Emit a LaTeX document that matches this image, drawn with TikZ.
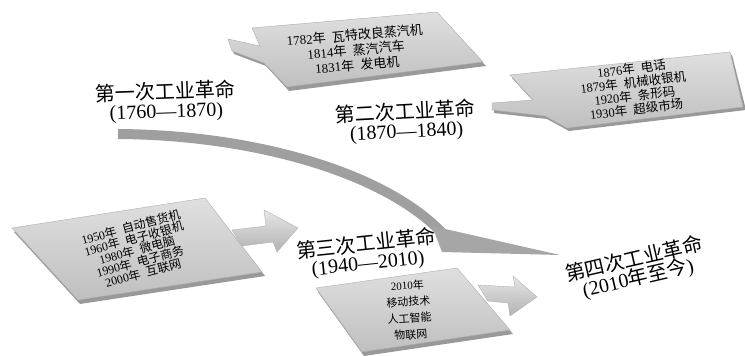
\documentclass[tikz,border=0pt]{standalone}
\usepackage{fontspec}
\setmainfont{Liberation Serif}
\newfontfamily\cjk{Noto Sans CJK SC}
\newcommand{\zh}[1]{{\cjk #1}}
\tikzset{
  panelshadow/.style={fill=gray!80, draw=none},
  panel/.style={top color=gray!25, bottom color=gray!50, draw=gray!65, line width=0.4pt},
  blockarrow/.style={top color=gray!20, bottom color=gray!60, draw=gray!60, line width=0.4pt},
  eralabel/.style={font=\fontsize{20}{19}\selectfont, align=center, inner sep=1pt},
  paneltext/.style={font=\fontsize{12.5}{14}\selectfont, align=center, inner sep=1pt},
}
\begin{document}
\begin{tikzpicture}[x=1pt,y=-1pt]
\useasboundingbox (0,0) rectangle (745,356);

% ---------- panel 1 ----------
\fill[panelshadow] (254,31) -- (439,15) -- (486,66) -- (289,91) -- (266,66) -- (234,54) -- (230,42) -- (262,49) -- cycle;
\path[panel] (252,28) -- (437,12) -- (483,62) -- (287,87) -- (264,63) -- (232,51) -- (228,39) -- (260,46) -- cycle;
\node[paneltext, rotate=5, font=\fontsize{13}{15}\selectfont] (p1) at (356,50) {1782\zh{年}\ \ \zh{瓦特改良蒸汽机}\\1814\zh{年}\ \ \zh{蒸汽汽车}\\1831\zh{年}\ \ \zh{发电机}};

% ---------- panel 2 ----------
\fill[panelshadow] (512,78) -- (732,55) -- (746,110) -- (569,131) -- (547,119) -- (494,113) -- (494,106) -- (535,103) -- cycle;
\path[panel] (510,75) -- (730,52) -- (743,107) -- (567,128) -- (545,116) -- (492,110) -- (492,103) -- (533,100) -- cycle;
\node[paneltext, rotate=7, font=\fontsize{12.5}{13.5}\selectfont] (p2) at (634,89) {1876\zh{年}\ \ \zh{电话}\\1879\zh{年}\ \ \zh{机械收银机}\\1920\zh{年}\ \ \zh{条形码}\\1930\zh{年}\ \ \zh{超级市场}};

% ---------- panel 3 ----------
\fill[panelshadow] (14,232) -- (207,202) -- (265,276) -- (80,304) -- cycle;
\path[panel] (12,228) -- (205,198) -- (262,272) -- (78,300) -- cycle;
\path[blockarrow] (232,230) -- (266,226) -- (264,210) -- (298,228) -- (277,252) -- (273,242) -- (242,246) -- cycle;
\node[paneltext, rotate=15, font=\fontsize{12}{11.8}\selectfont] (p3) at (137,250) {1950\zh{年}\ \ \zh{自动售货机}\\1960\zh{年}\ \ \zh{电子收银机}\\1980\zh{年}\ \ \zh{微电脑}\\1990\zh{年}\ \ \zh{电子商务}\\2000\zh{年}\ \ \zh{互联网}};

% ---------- panel 4 ----------
\fill[panelshadow] (318,292) -- (459,272) -- (513,334) -- (364,356) -- cycle;
\path[panel] (316,288) -- (457,268) -- (510,330) -- (362,352) -- cycle;
\path[blockarrow] (478,285) -- (515,287) -- (513,276) -- (537,297) -- (510,316) -- (508,303) -- (488,301) -- cycle;
\node[paneltext, rotate=4, font=\fontsize{11}{16.5}\selectfont] (p4) at (409,310) {2010\zh{年}\\\zh{移动技术}\\\zh{人工智能}\\\zh{物联网}};

% ---------- big curved arrow ----------
\coordinate (cs) at (118,134);
\coordinate (ce) at (445,236);
\coordinate (tip) at (560,255);
\draw[gray!75, line width=10pt] (cs) .. controls (260,135) and (390,175) .. (ce);
\fill[gray!70] (432,226) -- (tip) -- (442,252) -- cycle;

% ---------- era labels ----------
\node[eralabel, rotate=2] (e1) at (166,102) {\zh{第一次工业革命}\\(1760—1870)};
\node[eralabel, rotate=3] (e2) at (406,122) {\zh{第二次工业革命}\\(1870—1840)};
\node[eralabel, rotate=6] (e3) at (367,254) {\zh{第三次工业革命}\\(1940—2010)};
\node[eralabel, rotate=13] (e4) at (636,269) {\zh{第四次工业革命}\\(2010\zh{年至今})};
\end{tikzpicture}
\end{document}
